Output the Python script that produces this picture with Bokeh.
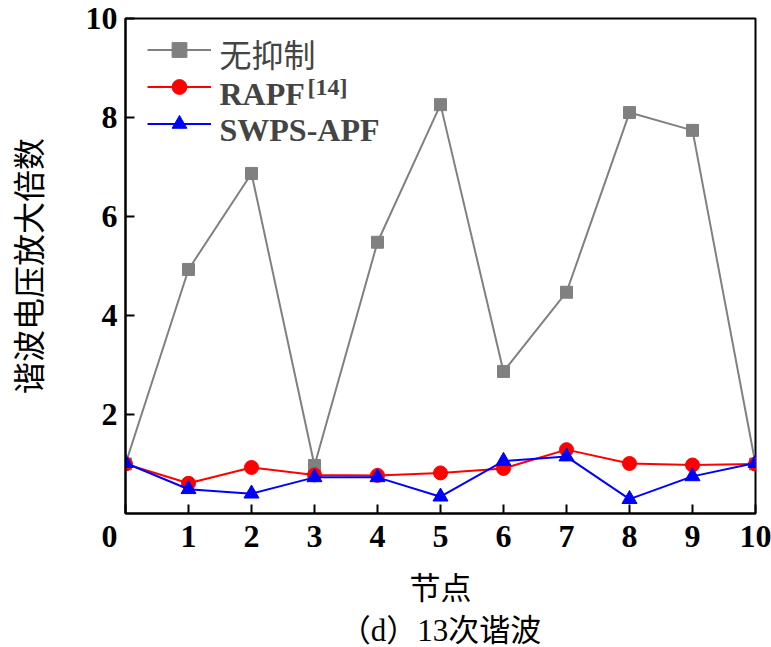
from bokeh.plotting import figure
from bokeh.models import Label, Legend, LegendItem, FixedTicker, Range1d, Title
from bokeh.embed import file_html
from bokeh.resources import INLINE

# ---- data ----
nodes = [0, 1, 2, 3, 4, 5, 6, 7, 8, 9, 10]
no_suppress = [1.00, 4.93, 6.87, 0.97, 5.48, 8.26, 2.87, 4.47, 8.10, 7.74, 1.00]
rapf = [1.00, 0.61, 0.93, 0.78, 0.77, 0.82, 0.91, 1.29, 1.01, 0.98, 1.00]
swps_apf = [1.02, 0.49, 0.40, 0.73, 0.73, 0.34, 1.06, 1.15, 0.29, 0.75, 1.02]
x_ticks = [0, 1, 2, 3, 4, 5, 6, 7, 8, 9, 10]
y_ticks = [2, 4, 6, 8, 10]
series_names = ["无抑制", "RAPF", "SWPS-APF"]
ref_mark = "[14]"
x_title = "节点"
y_title = "谐波电压放大倍数"
caption = "（d）13次谐波"

SERIF = "Liberation Serif"
CJK = "Noto Sans CJK SC"
W, H = 771, 647

p = figure(width=W, height=H, output_backend="svg", toolbar_location=None,
           x_range=Range1d(0, 10), y_range=Range1d(0, 10),
           min_border_left=124, min_border_right=16,
           min_border_top=18, min_border_bottom=126)
p.background_fill_color = "white"
p.border_fill_color = "white"
p.grid.visible = False
p.outline_line_color = "black"
p.outline_line_width = 2

for ax in (p.xaxis, p.yaxis):
    ax.axis_line_width = 2
    ax.major_tick_line_width = 2
    ax.major_tick_in = 9
    ax.major_tick_out = 0
    ax.minor_tick_line_color = None
    ax.major_label_text_font = SERIF
    ax.major_label_text_font_style = "bold"
    ax.major_label_text_font_size = "32px"
    ax.major_label_text_color = "black"
    ax.axis_label_text_font = CJK
    ax.axis_label_text_font_style = "normal"
    ax.axis_label_text_color = "black"

p.xaxis.ticker = FixedTicker(ticks=x_ticks)
p.yaxis.ticker = FixedTicker(ticks=y_ticks)
p.xaxis.major_label_overrides = {0: "0\u00a0\u00a0\u00a0\u00a0"}
p.xaxis.major_label_standoff = 4
p.yaxis.major_label_standoff = 8

p.yaxis.axis_label = y_title
p.yaxis.axis_label_text_font_size = "32px"
p.yaxis.axis_label_standoff = 33
p.xaxis.axis_label = x_title
p.xaxis.axis_label_text_font_size = "31px"
p.xaxis.axis_label_standoff = 6

p.add_layout(Title(text=caption, align="center", text_font=SERIF + ", " + CJK,
                   text_font_size="31px", text_font_style="normal",
                   text_color="black", standoff=0, offset=0), "below")

# series
l1 = p.line(nodes, no_suppress, line_color="#808080", line_width=2)
s1 = p.scatter(nodes, no_suppress, marker="square", size=12,
               fill_color="#808080", line_color="#808080")
l2 = p.line(nodes, rapf, line_color="#FF0000", line_width=2)
s2 = p.scatter(nodes, rapf, marker="circle", size=14,
               fill_color="#FF0000", line_color="#FF0000")
l3 = p.line(nodes, swps_apf, line_color="#0000FF", line_width=2)
s3 = p.scatter(nodes, swps_apf, marker="triangle", size=15,
               fill_color="#0000FF", line_color="#0000FF")

legend = Legend(items=[LegendItem(label=" ", renderers=[l1, s1]),
                       LegendItem(label=" ", renderers=[l2, s2]),
                       LegendItem(label=" ", renderers=[l3, s3])],
                location=(22, 371), glyph_width=64, glyph_height=37,
                spacing=0, padding=0, margin=0, label_standoff=0,
                label_text_font_size="1px", label_width=1, label_height=1,
                border_line_alpha=0, background_fill_alpha=0)
p.add_layout(legend)

# legend texts
p.add_layout(Label(x=0, y=10, x_offset=94, y_offset=-34, text=series_names[0],
                   text_font=CJK, text_font_size="32px",
                   text_baseline="middle", text_align="left"))
p.add_layout(Label(x=0, y=10, x_offset=94, y_offset=-75, text=series_names[1],
                   text_font=SERIF, text_font_style="bold", text_font_size="32px",
                   text_baseline="middle", text_align="left"))
p.add_layout(Label(x=0, y=10, x_offset=182, y_offset=-68, text=ref_mark,
                   text_font=SERIF, text_font_style="bold", text_font_size="24px",
                   text_baseline="middle", text_align="left"))
p.add_layout(Label(x=0, y=10, x_offset=94, y_offset=-111, text=series_names[2],
                   text_font=SERIF, text_font_style="bold", text_font_size="32px",
                   text_baseline="middle", text_align="left"))

open("out.html", "w").write(file_html(p, INLINE))
